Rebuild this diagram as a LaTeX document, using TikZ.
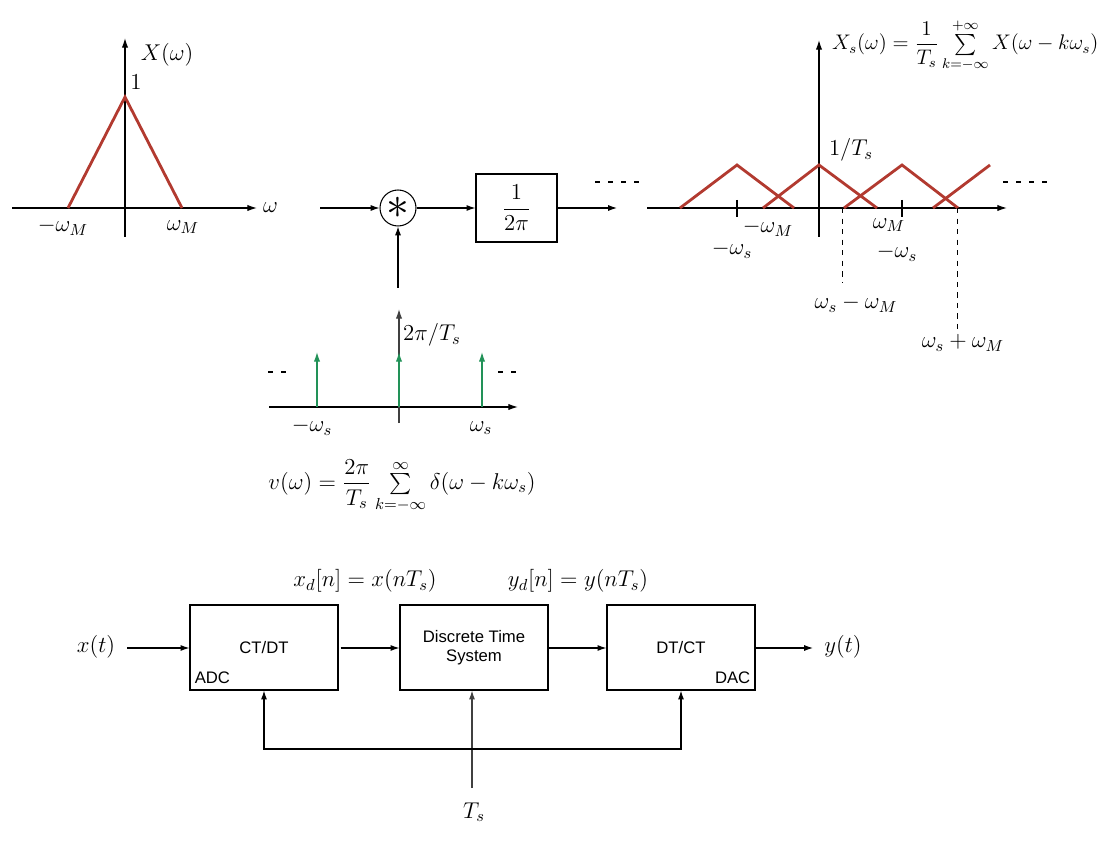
\RequirePackage{fix-cm}
\documentclass[tikz,border=0pt]{standalone}
\usepackage{amsmath}
\usepackage{fontspec}
\setsansfont{Liberation Sans}
\usepackage{tikz}
\usetikzlibrary{arrows.meta}
\definecolor{specred}{RGB}{178,58,48}
\definecolor{impgreen}{RGB}{34,146,88}
\tikzset{
    every node/.style={font=\fontsize{13}{15.5}\selectfont},
    axis/.style={line width=0.7pt, -{Latex[length=5.5pt,width=3.6pt]}},
    arr/.style={line width=0.6pt, -{Latex[length=5pt,width=3.4pt]}},
    spec/.style={specred, line width=1.6pt},
    imp/.style={impgreen, line width=0.7pt, -{Latex[length=5.5pt,width=3.6pt]}},
    dots/.style={line width=1.6pt, dash pattern=on 3pt off 4.4pt},
    block/.style={draw, line width=0.7pt, minimum width=2.96cm, minimum height=1.7cm, align=center,
        font=\sffamily\fontsize{9.5}{11}\selectfont},
    tag/.style={font=\sffamily\fontsize{9.5}{11}\selectfont, inner sep=0pt}
}
\begin{document}
\begin{tikzpicture}[x=0.02cm, y=-0.02cm]
    \useasboundingbox (0,0) rectangle (1113,841);

    % X(w)
    \draw[axis] (12,208) -- (257,208) coordinate (wx);
    \draw[axis] (125,237) -- (125,38) coordinate (wy);
    \draw[spec] (68,208) -- (125,97) -- (182,208);
    \node (lx) at (167,55) {$X(\omega)$};
    \node (lone) at (136,82) {$1$};
    \node (lw) at (wx)[anchor=west] {$\omega$};
    \node (lmwm) at (63,227) {$-\omega_M$};
    \node (lwm) at (183,227) {$\omega_M$};

    % convolution
    \node[draw, circle, line width=0.6pt, minimum size=0.72cm, inner sep=0pt] (conv) at (398,208)
        {\fontsize{26}{26}\selectfont$\ast$};
    \node[draw, line width=0.7pt, minimum width=1.62cm, minimum height=1.36cm] (scale) at (516.5,208)
        {$\dfrac{1}{2\pi}$};
    \coordinate (cin) at (320,208);
    \coordinate (cout) at (617,208);
    \coordinate (vin) at (398,288);
    \draw[arr] (cin) -- (conv);
    \draw[arr] (conv) -- (scale);
    \draw[arr] (scale) -- (cout);
    \draw[arr] (vin) -- (conv);
    \draw[dots] (595,182) -- (641,182);

    % impulse train
    \draw[axis] (269,407) -- (518,407);
    \draw[axis, black!75] (399,423) -- (399,309) coordinate (vy);
    \foreach \x in {317,399,482}
        \draw[imp] (\x,407) -- (\x,352);
    \draw[dots] (268,372) -- (289,372);
    \draw[dots] (498,372) -- (519,372);
    \node (lamp) at (432,335) {$2\pi/T_s$};
    \node (lmws) at (312,427) {$-\omega_s$};
    \node (lws) at (481,428) {$\omega_s$};
    \node (lv) at (402,486) {$v(\omega)=\dfrac{2\pi}{T_s}\sum\limits_{k=-\infty}^{\infty}\delta(\omega-k\omega_s)$};

    % Xs(w)
    \draw[axis] (647,208) -- (1007,208);
    \draw[axis] (819,237) -- (819,40) coordinate (sy);
    \draw[spec] (680,208) -- (737,165) -- (794,208);
    \draw[spec] (763,208) -- (819,165) -- (877,208);
    \draw[spec] (844,208) -- (902,165) -- (958,208);
    \draw[spec] (933,208) -- (990,165);
    \draw[line width=0.6pt] (737,200) -- (737,217);
    \draw[line width=0.6pt] (902,200) -- (902,217);
    \draw[line width=0.5pt, dashed] (842,208) -- (842,283);
    \draw[line width=0.5pt, dashed] (957,208) -- (957,330);
    \draw[dots] (1003,182) -- (1049,182);
    \node[font=\fontsize{12}{14}\selectfont] (lxs) at (826,50)[anchor=base west]
        {$X_s(\omega)=\dfrac{1}{T_s}\sum\limits_{k=-\infty}^{+\infty}X(\omega-k\omega_s)$};
    \node (linv) at (851,150) {$1/T_s$};
    \node (lsmwm) at (768,228) {$-\omega_M$};
    \node (lsmws) at (732,250) {$-\omega_s$};
    \node (lswm) at (889,225) {$\omega_M$};
    \node (lsmws2) at (897,253) {$-\omega_s$};
    \node (ldiff) at (856,304) {$\omega_s-\omega_M$};
    \node (lsum) at (963,343) {$\omega_s+\omega_M$};

    % sampling system
    \node[block] (ctdt) at (264,647.5) {CT/DT};
    \node[block] (dts) at (474,647.5) {Discrete Time\\System};
    \node[block] (dtct) at (681,647.5) {DT/CT};
    \node[tag] (adc) at ([shift={(5,-7)}]ctdt.south west)[anchor=south west] {ADC};
    \node[tag] (dac) at ([shift={(-5,-7)}]dtct.south east)[anchor=south east] {DAC};
    \node (xt) at (96,647) {$x(t)$};
    \node (yt) at (843,647) {$y(t)$};
    \node (xd) at (365,581) {$x_d[n]=x(nT_s)$};
    \node (yd) at (578,581) {$y_d[n]=y(nT_s)$};
    \node (ts) at (474,812) {$T_s$};
    \coordinate (xin) at (127,648);
    \coordinate (yout) at (813,648);
    \coordinate (tsin) at (472,788);
    \coordinate (fb) at (472,749);
    \draw[arr] (xin) -- (ctdt.west |- xin);
    \draw[arr] (ctdt.east |- xin) ++(2,0) -- (dts.west |- xin);
    \draw[arr] (dts.east |- xin) -- (dtct.west |- xin);
    \draw[arr] (dtct.east |- xin) -- (yout);
    \draw[arr, black!75] (tsin) -- (tsin |- dts.south);
    \draw[arr] (fb) -| (ctdt.south);
    \draw[arr] (fb) -| (dtct.south);
\end{tikzpicture}
\end{document}
